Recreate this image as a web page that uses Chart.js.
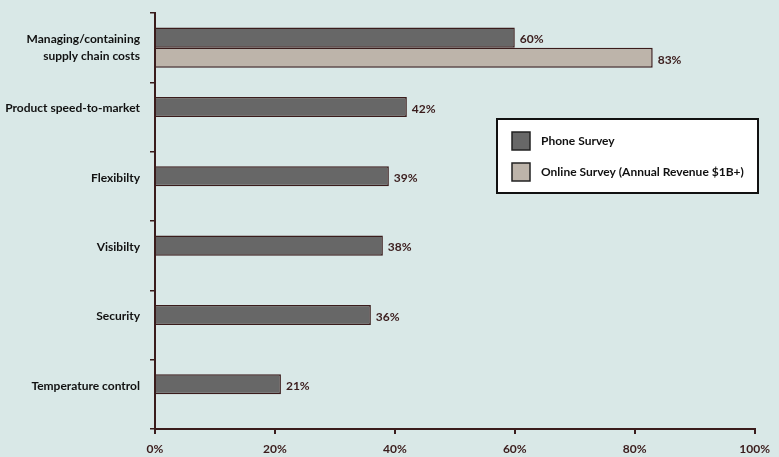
<!DOCTYPE html>
<html>
<head>
<meta charset="utf-8">
<script src="https://cdn.jsdelivr.net/npm/chart.js@4/dist/chart.umd.min.js"></script>
<style>
  html, body { margin: 0; padding: 0; background: #d9e8e7; }
  #wrap { width: 779px; height: 457px; }
</style>
</head>
<body>
<div id="wrap"><canvas id="myChart" width="779" height="457"></canvas></div>
<script>
// chart values
const categories = [
    ['Managing/containing', 'supply chain costs'],
    'Product speed-to-market',
    'Flexibilty',
    'Visibilty',
    'Security',
    'Temperature control'
];
const phoneSurvey = [60, 42, 39, 38, 36, 21];
const onlineSurvey = [83, null, null, null, null, null];
const seriesNames = ['Phone Survey', 'Online Survey (Annual Revenue $1B+)'];

const fontFamily = "Lato, 'Liberation Sans', sans-serif";
const darkBrown = '#3a1c1c';

// value labels at the end of each bar
const valueLabels = {
    id: 'valueLabels',
    afterDatasetsDraw(chart) {
        const ctx = chart.ctx;
        ctx.save();
        ctx.font = 'bold 12px ' + fontFamily;
        ctx.fillStyle = darkBrown;
        ctx.textBaseline = 'middle';
        ctx.textAlign = 'left';
        chart.data.datasets.forEach((ds, di) => {
            const meta = chart.getDatasetMeta(di);
            meta.data.forEach((bar, i) => {
                if (ds.data[i] === null) return;
                ctx.fillText(ds.data[i] + '%', bar.x + 5, bar.y + 2);
            });
        });
        ctx.restore();
    }
};

// x axis line and tick marks (the built-in border did not show up)
const xAxisLine = {
    id: 'xAxisLine',
    afterDraw(chart) {
        const ctx = chart.ctx;
        const xs = chart.scales.x;
        const y = Math.round(xs.top);
        ctx.save();
        ctx.strokeStyle = darkBrown;
        ctx.lineWidth = 2;
        ctx.beginPath();
        ctx.moveTo(xs.left - 1, y);
        ctx.lineTo(xs.right + 1, y);
        xs.ticks.forEach(t => {
            const px = Math.round(xs.getPixelForValue(t.value));
            ctx.moveTo(px, y);
            ctx.lineTo(px, y + 5);
        });
        ctx.stroke();
        ctx.restore();
    }
};

// boxed legend inside the plot area
const boxLegend = {
    id: 'boxLegend',
    afterDraw(chart) {
        const ctx = chart.ctx;
        const x = 497, y = 119, w = 261, h = 74;
        ctx.save();
        ctx.fillStyle = '#ffffff';
        ctx.fillRect(x, y, w, h);
        ctx.lineWidth = 2;
        ctx.strokeStyle = '#111111';
        ctx.strokeRect(x, y, w, h);
        ctx.font = 'bold 12px ' + fontFamily;
        ctx.textBaseline = 'middle';
        chart.data.datasets.forEach((ds, i) => {
            const sy = y + 13 + i * 31;
            ctx.fillStyle = ds.backgroundColor;
            ctx.fillRect(x + 15, sy, 18, 18);
            ctx.lineWidth = 1.5;
            ctx.strokeStyle = '#222222';
            ctx.strokeRect(x + 15, sy, 18, 18);
            ctx.fillStyle = '#111111';
            ctx.fillText(ds.label, x + 44, sy + 9);
        });
        ctx.restore();
    }
};

const ctx = document.getElementById('myChart');
const myChart = new Chart(ctx.getContext('2d'), {
    type: 'bar',
    data: {
        labels: categories,
        datasets: [{
            label: seriesNames[0],
            data: phoneSurvey,
            backgroundColor: '#676767',
            borderColor: darkBrown,
            borderWidth: 1.5
        }, {
            label: seriesNames[1],
            data: onlineSurvey,
            backgroundColor: '#bdb4aa',
            borderColor: darkBrown,
            borderWidth: 1.5
        }]
    },
    options: {
        responsive: false,
        animation: false,
        indexAxis: 'y',
        layout: { padding: { left: 0, right: 17, top: 13, bottom: 0 } },
        plugins: {
            legend: { display: false },
            tooltip: { enabled: false }
        },
        datasets: {
            bar: { categoryPercentage: 0.58, barPercentage: 1.0 }
        },
        scales: {
            x: {
                min: 0,
                max: 100,
                ticks: {
                    stepSize: 20,
                    callback: v => v + '%',
                    color: darkBrown,
                    font: { family: fontFamily, size: 12, weight: 'bold' },
                    padding: 9,
                    maxRotation: 0
                },
                grid: {
                    drawOnChartArea: false,
                    drawTicks: true,
                    tickLength: 4,
                    color: darkBrown,
                    lineWidth: 2
                },
                border: { color: darkBrown, width: 2 },
                afterFit(scale) { scale.height = 28; }
            },
            y: {
                ticks: {
                    color: '#111111',
                    font: { family: fontFamily, size: 12, weight: 'bold', lineHeight: 1.4 },
                    padding: 10,
                    // single-line labels sit next to the first bar slot
                    callback: (v, i) => Array.isArray(categories[i]) ? categories[i] : [categories[i], '']
                },
                grid: {
                    offset: true,
                    drawOnChartArea: false,
                    drawTicks: true,
                    tickLength: 5,
                    color: darkBrown,
                    lineWidth: 1.5
                },
                border: { color: darkBrown, width: 2 },
                afterFit(scale) {
                    scale.width = 155;
                    scale.paddingTop = 0;
                    scale.paddingBottom = 0;
                }
            }
        }
    },
    plugins: [valueLabels, xAxisLine, boxLegend]
});
</script>
</body>
</html>
